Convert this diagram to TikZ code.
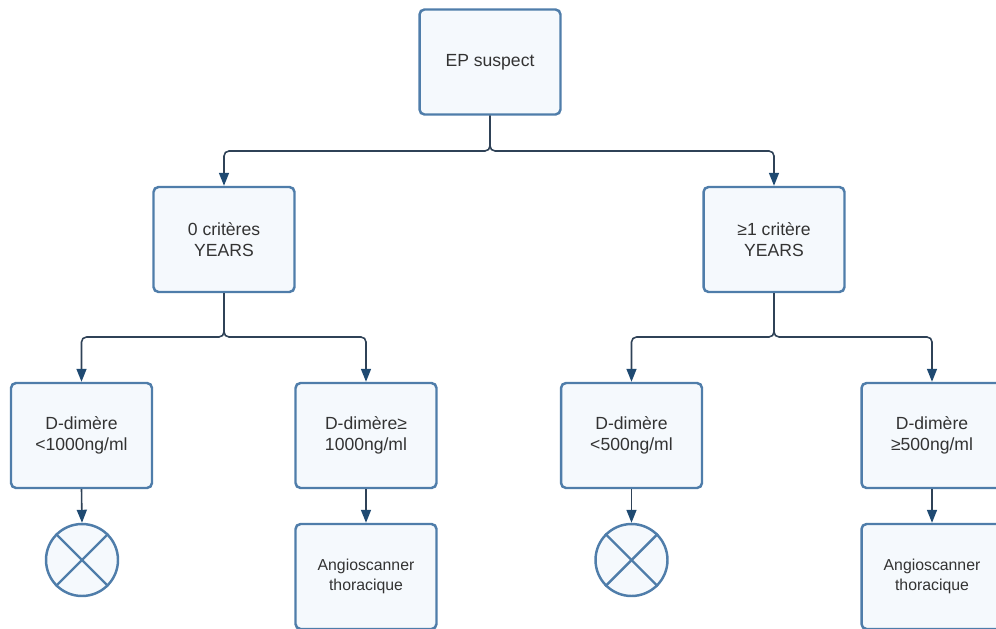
\documentclass[tikz,border=0pt]{standalone}
\usepackage{fontspec}
\setmainfont{Liberation Sans}
\usepackage{xcolor}
\usetikzlibrary{arrows.meta}
\definecolor{boxline}{HTML}{4F7DAA}
\definecolor{boxfill}{HTML}{F5F9FD}
\definecolor{connline}{HTML}{2F4257}
\definecolor{tipfill}{HTML}{1F4A72}
\definecolor{txt}{HTML}{333333}
\tikzset{
	stepbox/.style={draw=boxline, fill=boxfill, line width=1.4pt, rounded corners=0.1cm,
		minimum width=2.82cm, minimum height=2.1cm, align=center, text=txt,
		font=\fontsize{10}{12}\selectfont},
	endbox/.style={stepbox, font=\fontsize{9}{11}\selectfont},
	stopmark/.style={draw=boxline, fill=boxfill, line width=1.4pt, circle, minimum size=1.44cm},
	conn/.style={draw=connline, line width=0.9pt, rounded corners=0.1cm,
		-{Triangle[length=0.26cm, width=0.2cm, fill=tipfill, color=tipfill]}},
}
\begin{document}
\begin{tikzpicture}[x=0.02cm, y=-0.02cm]
		\useasboundingbox (0,0) rectangle (996,628);
		\node[stepbox] (ep) at (490,62) {EP suspect};
		\node[stepbox] (crit0) at (224,239.5) {0 critères\\YEARS};
		\node[stepbox] (crit1) at (774,239.5) {≥1 critère\\YEARS};
		\node[stepbox] (dd1000lo) at (81.5,435.5) {D-dimère\\<1000ng/ml};
		\node[stepbox] (dd1000hi) at (366,435.5) {D-dimère≥\\1000ng/ml};
		\node[stepbox] (dd500lo) at (631.5,435.5) {D-dimère\\<500ng/ml};
		\node[stepbox] (dd500hi) at (932,435.5) {D-dimère\\≥500ng/ml};
		\node[stopmark] (stop0) at (82,560) {};
		\node[endbox] (angio0) at (366,576.5) {Angioscanner\\thoracique};
		\node[stopmark] (stop1) at (631.5,560) {};
		\node[endbox] (angio1) at (932,576.5) {Angioscanner\\thoracique};
		\draw[draw=boxline, line width=1.4pt] (stop0.north west) -- (stop0.south east);
		\draw[draw=boxline, line width=1.4pt] (stop0.north east) -- (stop0.south west);
		\draw[draw=boxline, line width=1.4pt] (stop1.north west) -- (stop1.south east);
		\draw[draw=boxline, line width=1.4pt] (stop1.north east) -- (stop1.south west);
		\coordinate (split0) at (490,151);
		\coordinate (split1) at (224,337);
		\coordinate (split2) at (774,337);
		\draw[conn] (ep.south) -- (split0) -| (crit0.north);
		\draw[conn] (ep.south) -- (split0) -| (crit1.north);
		\draw[conn] (crit0.south) -- (split1) -| (dd1000lo.north);
		\draw[conn] (crit0.south) -- (split1) -| (dd1000hi.north);
		\draw[conn] (crit1.south) -- (split2) -| (dd500lo.north);
		\draw[conn] (crit1.south) -- (split2) -| (dd500hi.north);
		\draw[conn] (dd1000lo.south) -- (stop0.north);
		\draw[conn] (dd1000hi.south) -- (angio0.north);
		\draw[conn] (dd500lo.south) -- (stop1.north);
		\draw[conn] (dd500hi.south) -- (angio1.north);
	\end{tikzpicture}
\end{document}
